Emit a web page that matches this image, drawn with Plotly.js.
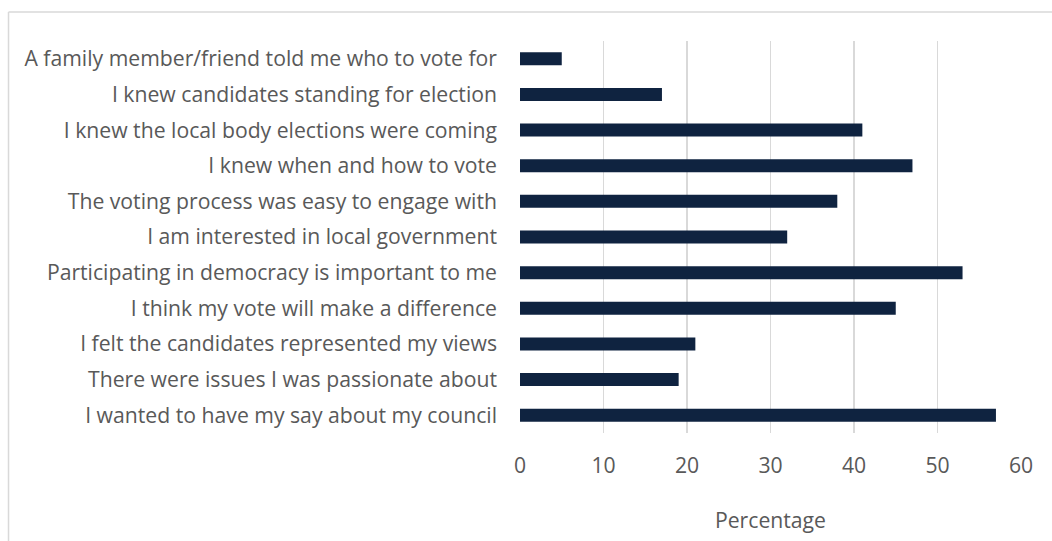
<!DOCTYPE html>
<html>
<head>
<meta charset="utf-8">
<script src="https://cdn.plot.ly/plotly-3.0.1.min.js"></script>
<style>
  html, body { margin: 0; padding: 0; background: #ffffff; }
  #chart { width: 1052px; height: 541px; }
</style>
</head>
<body>
<div id="chart"></div>
<script>
const categories = [
  "A family member/friend told me who to vote for",
  "I knew candidates standing for election",
  "I knew the local body elections were coming",
  "I knew when and how to vote",
  "The voting process was easy to engage with",
  "I am interested in local government",
  "Participating in democracy is important to me",
  "I think my vote will make a difference",
  "I felt the candidates represented my views",
  "There were issues I was passionate about",
  "I wanted to have my say about my council"
];
const percentages = [5, 17, 41, 47, 38, 32, 53, 45, 21, 19, 57];
const xTickValues = [0, 10, 20, 30, 40, 50, 60];
const xAxisTitle = "Percentage";

const W = 1052, H = 541;
const margin = { l: 519.5, r: 30.5, t: 41, b: 108 };
const pw = W - margin.l - margin.r;
const ph = H - margin.t - margin.b;
const px2paperX = x => (x - margin.l) / pw;
const px2paperY = y => (H - margin.b - y) / ph;

const fontFamily = "'Open Sans', Lato, 'DejaVu Sans', sans-serif";
const textColor = "#595959";
const fs = 21.2;

const data = [{
  type: "bar",
  orientation: "h",
  y: categories,
  x: percentages,
  marker: { color: "#0f2340", line: { width: 0 } },
  hoverinfo: "x+y"
}];

const layout = {
  width: W,
  height: H,
  margin: margin,
  paper_bgcolor: "#ffffff",
  plot_bgcolor: "#ffffff",
  showlegend: false,
  bargap: 0.635,
  font: { family: fontFamily, color: textColor, size: fs },
  xaxis: {
    range: [0, 60],
    tickvals: xTickValues,
    ticktext: xTickValues.map(String),
    showgrid: true,
    gridcolor: "#d9d9d9",
    gridwidth: 1.5,
    zeroline: false,
    showline: false,
    ticks: "",
    ticklabelstandoff: 18,
    tickfont: { size: fs, color: textColor, family: fontFamily },
    title: { text: xAxisTitle, font: { size: fs, color: textColor, family: fontFamily }, standoff: 34 },
    automargin: false,
    fixedrange: true
  },
  yaxis: {
    type: "category",
    categoryorder: "array",
    categoryarray: categories,
    autorange: "reversed",
    showgrid: false,
    zeroline: false,
    showline: false,
    ticks: "",
    ticklabelstandoff: 22,
    tickfont: { size: fs, color: textColor, family: fontFamily },
    automargin: false,
    fixedrange: true
  },
  shapes: [
    { type: "line", xref: "paper", yref: "paper",
      x0: px2paperX(7), x1: px2paperX(1060), y0: px2paperY(12), y1: px2paperY(12),
      line: { color: "#d9d9d9", width: 1.5 } },
    { type: "line", xref: "paper", yref: "paper",
      x0: px2paperX(7), x1: px2paperX(7), y0: px2paperY(12), y1: px2paperY(560),
      line: { color: "#d9d9d9", width: 1.5 } }
  ]
};

Plotly.newPlot("chart", data, layout, { displayModeBar: false, staticPlot: true });
</script>
</body>
</html>
